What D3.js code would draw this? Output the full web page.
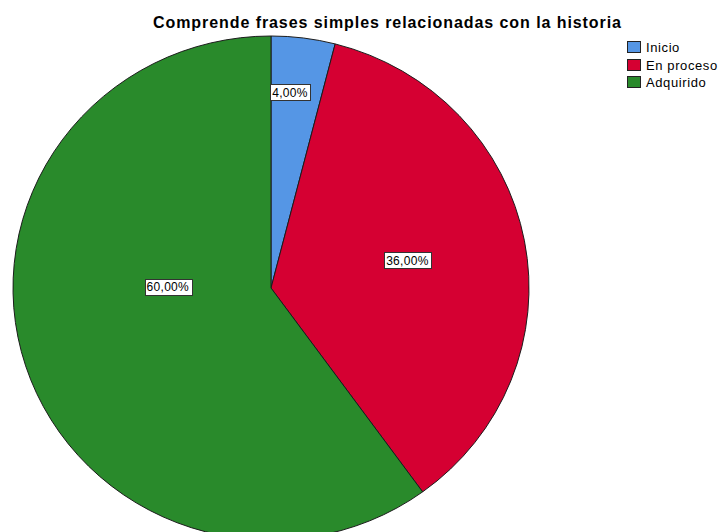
<!DOCTYPE html>
<html><head><meta charset="utf-8">
<script src="https://cdn.jsdelivr.net/npm/d3@7"></script>
<style>body{margin:0;background:#fff;}svg{display:block;}</style>
</head><body>
<svg id="c" width="720" height="532"></svg>
<script>
const title = "Comprende frases simples relacionadas con la historia";
const categories = ["Inicio", "En proceso", "Adquirido"];
const values = [4, 36, 60];
const labels = ["4,00%", "36,00%", "60,00%"];
const colors = ["#5596e5", "#d50032", "#298a2b"];

const W = 720, H = 532;
const cx = 271, cy = 288, rx = 258, ry = 252;
// label placement (radius fraction, angle offset in degrees) — layout only
const labelLayout = [[0.78, -1.8], [0.54, -1.0], [0.40, 18.8]];

const svg = d3.select("#c");

svg.append("text").attr("x", 387).attr("y", 28).attr("text-anchor", "middle")
  .attr("font-family", "Liberation Sans, Arial, sans-serif").attr("font-weight", "bold")
  .attr("font-size", 16).attr("textLength", 468).attr("lengthAdjust", "spacing")
  .attr("fill", "#000").text(title);

const pie = d3.pie().sort(null).value(d => d)(values);
const arc = d3.arc().innerRadius(0).outerRadius(rx);
const g = svg.append("g").attr("transform", `translate(${cx},${cy}) scale(1,${ry/rx})`);
g.selectAll("path").data(pie).join("path")
  .attr("d", arc).attr("fill", (d, i) => colors[i])
  .attr("stroke", "#1a1a1a").attr("stroke-width", 1);

const lg = svg.append("g");
pie.forEach((d, i) => {
  const [frac, off] = labelLayout[i];
  const a = (d.startAngle + d.endAngle) / 2 + off * Math.PI / 180;
  const x = cx + Math.sin(a) * rx * frac;
  const y = cy - Math.cos(a) * ry * frac;
  const t = lg.append("text").attr("x", x).attr("y", y + 4.5).attr("text-anchor", "middle")
    .attr("font-family", "Liberation Sans, Arial, sans-serif").attr("font-size", 12)
    .attr("letter-spacing", 0.3)
    .attr("fill", "#000").text(labels[i]);
  const bb = t.node().getBBox();
  lg.insert("rect", () => t.node())
    .attr("x", Math.round(bb.x - 2) + 0.5).attr("y", Math.round(y - 8) + 0.5)
    .attr("width", Math.round(bb.width + 4)).attr("height", 16)
    .attr("fill", "#fff").attr("stroke", "#333").attr("stroke-width", 1);
});

const leg = svg.append("g");
categories.forEach((c, i) => {
  const y = 41 + i * 17.5;
  leg.append("rect").attr("x", 627.5).attr("y", Math.round(y) + 0.5).attr("width", 13).attr("height", 11)
    .attr("fill", colors[i]).attr("stroke", "#222").attr("stroke-width", 1);
  leg.append("text").attr("x", 646).attr("y", Math.round(y) + 10.5)
    .attr("font-family", "Liberation Sans, Arial, sans-serif").attr("font-size", 13)
    .attr("letter-spacing", 0.6)
    .attr("fill", "#000").text(c);
});
</script>
</body></html>
